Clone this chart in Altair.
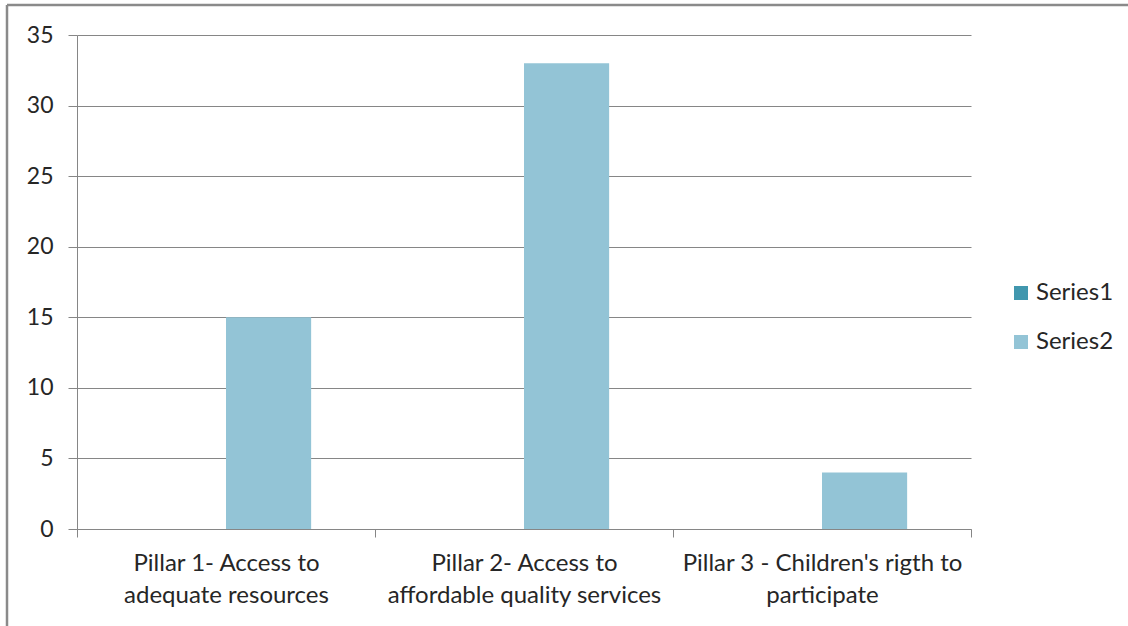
import altair as alt
import pandas as pd

# Category labels (line breaks where the axis wraps them)
categories = [
    "Pillar 1- Access to\nadequate resources",
    "Pillar 2- Access to\naffordable quality services",
    "Pillar 3 - Children's rigth to\nparticipate",
]
series_names = ["Series1", "Series2"]
series1 = [0, 0, 0]
series2 = [15, 33, 4]
series_colors = ["#4197AE", "#93C4D6"]
y_ticks = [0, 5, 10, 15, 20, 25, 30, 35]

rows = []
for cat, v1, v2 in zip(categories, series1, series2):
    rows.append({"category": cat, "series": series_names[0], "value": v1})
    rows.append({"category": cat, "series": series_names[1], "value": v2})
df = pd.DataFrame(rows)

FONT = "Lato"
TEXT = "#262626"
LINE = "#868686"

bars = alt.Chart(df).mark_bar(stroke=None).encode(
    x=alt.X(
        "category:N",
        sort=categories,
        title=None,
        scale=alt.Scale(paddingInner=0, paddingOuter=0),
        axis=alt.Axis(
            labelAngle=0,
            labelExpr="split(datum.label, '\\n')",
            labelLimit=0,
            tickBand="extent",
            tickSize=8,
            labelPadding=14,
            labelLineHeight=32,
            labelFontSize=24,
            grid=False,
        ),
    ),
    xOffset=alt.XOffset(
        "series:N",
        sort=series_names,
        scale=alt.Scale(paddingInner=0, paddingOuter=0.75),
    ),
    y=alt.Y(
        "value:Q",
        title=None,
        scale=alt.Scale(domain=[0, 35], nice=False),
        axis=alt.Axis(values=y_ticks, tickSize=9, labelPadding=15, labelFontSize=23, grid=True),
    ),
    color=alt.Color(
        "series:N",
        sort=series_names,
        scale=alt.Scale(domain=series_names, range=series_colors),
        legend=alt.Legend(
            title=None,
            orient="none",
            legendX=932,
            legendY=246,
            symbolType="square",
            symbolSize=196,
            symbolStrokeWidth=0,
            labelFontSize=24,
            labelOffset=3,
            labelLimit=0,
            rowPadding=25,
        ),
    ),
)

# Outer frame of the chart area (top and left edges)
frame_df = pd.DataFrame({"k": [0]})
frame_top = alt.Chart(frame_df).mark_rule(color="#8a8a8a", strokeWidth=2.5).encode(
    x=alt.value(-70), x2=alt.value(1051), y=alt.value(-30)
)
frame_left = alt.Chart(frame_df).mark_rule(color="#8a8a8a", strokeWidth=2.5).encode(
    x=alt.value(-70), y=alt.value(-30), y2=alt.value(591)
)

chart = (
    alt.layer(bars, frame_top, frame_left)
    .properties(
        width=894,
        height=494,
        autosize=alt.AutoSizeParams(type="none"),
        padding={"left": 77, "top": 35, "right": 157, "bottom": 97},
        background="white",
    )
    .configure_view(stroke=None)
    .configure_axis(
        labelFont=FONT,
        labelColor=TEXT,
        domainColor=LINE,
        tickColor=LINE,
        gridColor=LINE,
        domainWidth=1,
        tickWidth=1,
        gridWidth=1,
    )
    .configure_legend(labelFont=FONT, labelColor=TEXT)
)

chart.save("out.html", embed_options={"renderer": "svg", "actions": False})
